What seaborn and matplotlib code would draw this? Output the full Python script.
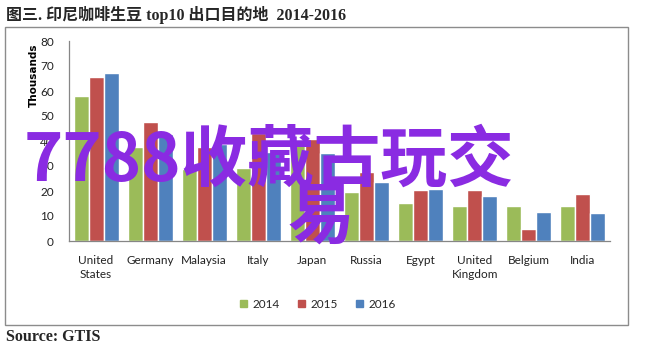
import matplotlib
matplotlib.use("Agg")
import matplotlib.pyplot as plt
import matplotlib.patches as mpatches
import seaborn as sns
import pandas as pd

categories = ["United\nStates", "Germany", "Malaysia", "Italy", "Japan",
              "Russia", "Egypt", "United\nKingdom", "Belgium", "India"]
years = ["2014", "2015", "2016"]
v2014 = [58.0, 37.6, 29.0, 29.2, 40.4, 19.6, 15.2, 14.2, 14.2, 14.2]
v2015 = [65.6, 47.6, 37.8, 43.2, 41.0, 27.6, 20.6, 20.6, 4.8, 19.0]
v2016 = [67.2, 42.8, 39.0, 35.6, 35.2, 23.8, 20.8, 18.2, 11.8, 11.2]
colors = ["#9BBB59", "#C0504D", "#4F81BD"]

title = "图三. 印尼咖啡生豆 top10 出口目的地  2014-2016"
source = "Source: GTIS"
watermark1 = "7788收藏古玩交"
watermark2 = "易"

rows = []
for y, vals in zip(years, [v2014, v2015, v2016]):
    for c, v in zip(categories, vals):
        rows.append({"country": c, "year": y, "value": v})
df = pd.DataFrame(rows)

sns.set_theme(style="white")
plt.rcParams["font.family"] = ["Lato", "DejaVu Sans"]

W, H = 650, 346
fig = plt.figure(figsize=(6.5, 3.46), dpi=100)
fig.patch.set_facecolor("white")

# outer frame
fig.patches.append(mpatches.Rectangle((5 / W, 1 - 325 / H), (628 - 5) / W, (325 - 27) / H,
                                      transform=fig.transFigure, fill=False,
                                      edgecolor="#8c8c8c", linewidth=1.0))

ax = fig.add_axes([69 / W, 1 - 241 / H, (610 - 69) / W, (241 - 41) / H])
sns.barplot(data=df, x="country", y="value", hue="year", palette=colors,
            width=0.83, gap=0, saturation=1, ax=ax, legend=False, errorbar=None)
ax.set_ylim(0, 80)
ax.set_xlim(-0.5, 9.5)
ax.set_yticks(range(0, 81, 10))
ax.set_xlabel("")
ax.set_ylabel("Thousands", fontsize=7.5, fontweight="bold", color="black",
              family=["DejaVu Sans"])
ax.yaxis.set_label_coords(-0.056, 0.83)
for s in ["top", "right"]:
    ax.spines[s].set_visible(False)
for s in ["left", "bottom"]:
    ax.spines[s].set_color("#868686")
    ax.spines[s].set_linewidth(0.9)
ax.tick_params(axis="both", length=0, labelsize=8.5, colors="#222222")
ax.tick_params(axis="y", pad=11)
ax.tick_params(axis="x", pad=10)
for lbl in ax.get_xticklabels():
    lbl.set_linespacing(1.3)

handles = [mpatches.Patch(color=c, label=y) for c, y in zip(colors, years)]
fig.legend(handles=handles, loc="center", bbox_to_anchor=(318 / W, 1 - 304 / H),
           ncol=3, frameon=False, fontsize=8.5, handlelength=0.6, handleheight=0.6,
           handletextpad=0.4, columnspacing=1.6)

fig.text(6 / W, 1 - 15 / H, title, fontsize=11.5, fontweight="bold", va="center", ha="left",
         family=["Liberation Serif", "Noto Sans CJK SC"])
fig.text(6 / W, 1 - 337 / H, source, fontsize=11.5, fontweight="bold", va="center", ha="left",
         family=["Liberation Serif"])

fig.text(24 / W, 1 - 181 / H, watermark1, fontsize=48, fontweight="bold", color="#8a2be2",
         va="baseline", ha="left", family=["Noto Sans CJK SC"])
fig.text(288 / W, 1 - 238 / H, watermark2, fontsize=48, fontweight="bold", color="#8a2be2",
         va="baseline", ha="left", family=["Noto Sans CJK SC"])

fig.savefig("out.png", dpi=100, facecolor="white")
